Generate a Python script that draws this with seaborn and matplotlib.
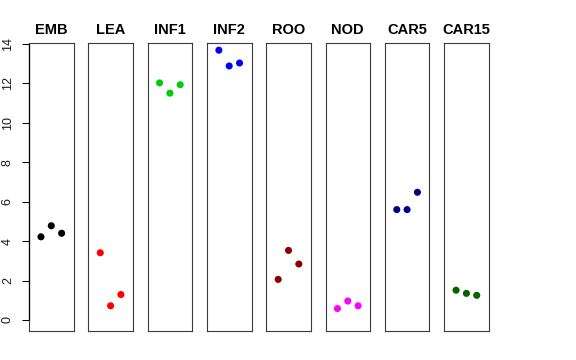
import numpy as np
import pandas as pd
import matplotlib
matplotlib.use("Agg")
import matplotlib.pyplot as plt
import seaborn as sns

# tissues and the three replicate values per tissue
tissues = ["EMB", "LEA", "INF1", "INF2", "ROO", "NOD", "CAR5", "CAR15"]
replicates = [1, 2, 3]
values = {
    "EMB": [4.22, 4.78, 4.40],
    "LEA": [3.41, 0.72, 1.29],
    "INF1": [12.03, 11.51, 11.94],
    "INF2": [13.69, 12.89, 13.04],
    "ROO": [2.06, 3.53, 2.84],
    "NOD": [0.58, 0.96, 0.72],
    "CAR5": [5.60, 5.60, 6.48],
    "CAR15": [1.51, 1.35, 1.25],
}
colors = ["#000000", "#FF0000", "#00CD00", "#0000FF",
          "#8B0000", "#FF00FF", "#00008B", "#006400"]
y_ticks = [0, 2, 4, 6, 8, 10, 12, 14]

df = pd.DataFrame(
    [(t, r, v) for t in tissues for r, v in zip(replicates, values[t])],
    columns=["tissue", "rep", "value"],
)

sns.set_style("white")
plt.rcParams["font.family"] = ["Liberation Sans", "DejaVu Sans"]

fig = plt.figure(figsize=(5.76, 3.6), dpi=100)

W, H = 576, 360
left0, step, width = 29.0, 59.3, 44.6
top_px, bottom_px = 43.3, 331.0
xlim = (-0.16, 4.16)

for i, (tissue, col) in enumerate(zip(tissues, colors)):
    ax = fig.add_axes([(left0 + i * step) / W, 1 - bottom_px / H,
                       width / W, (bottom_px - top_px) / H])
    sub = df[df["tissue"] == tissue]
    sns.scatterplot(data=sub, x="rep", y="value", ax=ax, color=col,
                    s=26, edgecolor="none", legend=False)
    ax.set_xlim(*xlim)
    ax.set_ylim(-0.56, 14.04)
    ax.set_xlabel("")
    ax.set_ylabel("")
    ax.set_xticks([])
    ax.set_title(tissue, fontsize=10.5, fontweight="bold", pad=6.7,
                 color="black")
    for sp in ax.spines.values():
        sp.set_visible(True)
        sp.set_color("#3a3a3a")
        sp.set_linewidth(0.8)
    if i == 0:
        ax.set_yticks(y_ticks)
        ax.set_yticklabels([str(t) for t in y_ticks], fontsize=9)
        ax.tick_params(axis="y", length=5.4, width=0.75, pad=5.5,
                       left=True, labelrotation=90, colors="black",
                       labelcolor="#1a1a1a")
        for lab in ax.get_yticklabels():
            lab.set_va("center")
        # axis line spans the tick range only, like base R
        ax.vlines(xlim[0], y_ticks[0], y_ticks[-1], color="black",
                  linewidth=0.9, clip_on=False, zorder=5)
    else:
        ax.set_yticks([])

fig.savefig("out.png", dpi=100)
